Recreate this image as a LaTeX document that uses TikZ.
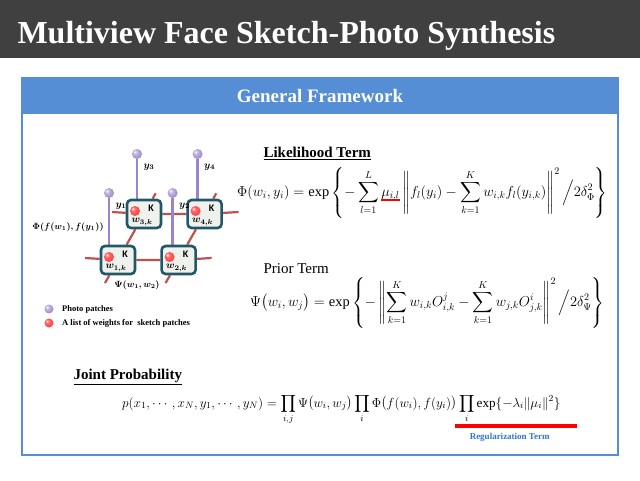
\RequirePackage{fix-cm}
\documentclass[tikz,border=0pt]{standalone}
\usepackage{amsmath}
\usepackage{bm}
\usepackage{fontspec}
\setmainfont{Liberation Serif}
\newfontfamily\carlito{Carlito}
\usetikzlibrary{positioning, calc, backgrounds}
\definecolor{titlegray}{HTML}{404040}
\definecolor{frameblue}{HTML}{558ED5}
\definecolor{boxteal}{HTML}{215868}
\definecolor{boxfill}{HTML}{EEF1EC}
\definecolor{polepurple}{HTML}{9B85C9}
\definecolor{linkred}{HTML}{C0504D}
\definecolor{regblue}{HTML}{2E75D6}
% shaded balls
\pgfdeclareradialshading{pshade}{\pgfpoint{-12bp}{12bp}}{color(0bp)=(white); color(10bp)=(white!40!polepurple); color(30bp)=(polepurple); color(50bp)=(polepurple!70!black)}
\pgfdeclareradialshading{rshade}{\pgfpoint{-12bp}{12bp}}{color(0bp)=(white); color(10bp)=(white!40!red); color(30bp)=(red!75); color(50bp)=(red!60!black)}
% red rule under a math term
\newcommand{\redul}[1]{\mathord{\setbox0=\hbox{$#1$}\rlap{\color{red}\rule[-4pt]{\wd0}{1.6pt}}\box0}}

\begin{document}
\begin{tikzpicture}[x=1pt, y=-1pt,
        wbox/.style={draw=boxteal, line width=2.6pt, fill=boxfill, rounded corners=4pt,
            minimum width=34pt, minimum height=28pt, inner sep=0pt},
        pball/.style={circle, inner sep=0pt, minimum size=10pt, shading=pshade},
        rball/.style={circle, inner sep=0pt, minimum size=10pt, shading=rshade},
        pole/.style={polepurple, line width=2.6pt},
        link/.style={linkred, line width=2.2pt},
        heading/.style={font=\fontsize{15}{17}\selectfont\bfseries, anchor=base west},
        eqn/.style={font=\fontsize{14.4}{16}\selectfont, inner sep=0pt},
        legend/.style={font=\fontsize{8.5}{10}\selectfont\bfseries, right=5pt of #1}
    ]
        \useasboundingbox (0,0) rectangle (640,480);
        % title bar and frame
        \fill[titlegray] (0,0) rectangle (640,58);
        \node[text=white, font=\fontsize{32}{36}\selectfont\bfseries, anchor=base west] (title) at (14,43) {Multiview Face Sketch-Photo Synthesis};
        \fill[frameblue] (22,78) rectangle (618,114);
        \draw[frameblue, line width=1.6pt] (22,78) rectangle (618,455);
        \node[text=white, font=\fontsize{19}{22}\selectfont\bfseries] (framehead) at (320,96) {General Framework};

        % weight boxes
        \node[wbox] (w1) at (118,260) {};
        \node[wbox, right=24pt of w1] (w2) {};
        \node[wbox] (w3) at ($(w1)+(26,-46)$) {};
        \node[wbox, right=24pt of w3] (w4) {};
        \foreach \i in {1,...,4} {
            \node[rball] at ($(w\i)+(-9,-3)$) {};
            \node[font=\carlito\bfseries\fontsize{10}{10}\selectfont] at ($(w\i)+(7,-6)$) {K};
            \node[font=\fontsize{10}{10}\selectfont] at ($(w\i)+(-2,8)$) {$\bm{w_{\i,k}}$};
        }

        % photo patches
        \node[pball] (y1) at ($(w1)+(-9,-67)$) {};
        \node[pball] (y2) at ($(w2)+(-6,-67)$) {};
        \node[pball] (y3) at ($(w3)+(-7,-60)$) {};
        \node[pball] (y4) at ($(w4)+(-7,-60)$) {};
        \foreach \i in {1,...,4}
            \node[font=\fontsize{10}{10}\selectfont, anchor=west] at ($(y\i)+(3,13)$) {$\bm{y_{\i}}$};

        % links behind the boxes
        \coordinate (t0) at ($(w3)+(-32,-2)$);
        \coordinate (t1) at ($(w4)+(34,-2)$);
        \coordinate (b0) at ($(w1)+(-33,-2)$);
        \coordinate (b1) at ($(w2)+(33,-2)$);
        \coordinate (d1) at ($(w3)!1.5!(w1)$);
        \coordinate (u3) at ($(w1)!1.45!(w3)$);
        \coordinate (d2) at ($(w4)!1.5!(w2)$);
        \coordinate (u4) at ($(w2)!1.45!(w4)$);
        \begin{scope}[on background layer]
            \draw[link] (t0) -- (w3) -- (w4) -- (t1);
            \draw[link] (b0) -- (w1) -- (w2) -- (b1);
            \draw[link] (d1) -- (w1) -- (w3) -- (u3);
            \draw[link] (d2) -- (w2) -- (w4) -- (u4);
            \draw[pole] (y1) -- (y1 |- w1.north);
            \draw[pole] (y2) -- (y2 |- w2.north);
            \draw[pole] (y3) -- (y3 |- w3.north);
            \draw[pole] (y4) -- (y4 |- w4.north);
        \end{scope}

        \node[font=\fontsize{9}{10}\selectfont] (philabel) at (68,227) {$\bm{\Phi(f(w_1),f(y_1))}$};
        \node[font=\fontsize{9}{10}\selectfont] (psilabel) at (137,285) {$\bm{\Psi(w_1,w_2)}$};

        % legend
        \node[pball, minimum size=9pt] (legp) at (49,309) {};
        \node[legend=legp] {Photo patches};
        \node[rball, minimum size=9pt] (legr) at (49,323) {};
        \node[legend=legr] {A list of weights for\ \ sketch patches};

        % likelihood term
        \node[heading] (likehead) at (260,157) {\underline{Likelihood Term}};
        \node[eqn, anchor=west] (phieq) at (237,193) {$\displaystyle \Phi(w_i,y_i)=\exp\left\{-\sum_{l=1}^{L}\redul{\mu_{i,l}}\left\|f_l(y_i)-\sum_{k=1}^{K}w_{i,k}f_l(y_{i,k})\right\|^2\Big/2\delta_{\Phi}^2\right\}$};

        % prior term
        \node[heading, font=\fontsize{15}{17}\selectfont] (priorhead) at (260,273) {Prior Term};
        \node[eqn, anchor=west] (psieq) at (250,303) {$\displaystyle \Psi\bigl(w_i,w_j\bigr)=\exp\left\{-\left\|\sum_{k=1}^{K}w_{i,k}O_{i,k}^{j}-\sum_{k=1}^{K}w_{j,k}O_{j,k}^{i}\right\|^2\Big/2\delta_{\Psi}^2\right\}$};

        % joint probability
        \node[heading] (jointhead) at (70,379) {\underline{Joint Probability}};
        \node[eqn, font=\fontsize{13.2}{15}\selectfont, anchor=base west] (jointeq) at (122,407) {$\displaystyle p(x_1,\cdots,x_N,y_1,\cdots,y_N)=\prod_{i,j}\Psi\bigl(w_i,w_j\bigr)\prod_i\Phi\bigl(f(w_i),f(y_i)\bigr)$};
        \node[eqn, font=\fontsize{13.2}{15}\selectfont, anchor=base west] (regeq) at ($(jointeq.base east)+(2,0)$) {$\displaystyle\prod_i\exp\{-\lambda_i\|\mu_i\|^2\}$};
        \coordinate (rega) at ($(regeq.south west)+(-4,3)$);
        \coordinate (regb) at ($(regeq.south east)+(16,3)$);
        \draw[red, line width=3.5pt] (rega) -- (regb);
        \node[font=\fontsize{9}{10}\selectfont\bfseries, text=regblue, below=4pt of $(rega)!0.45!(regb)$] (reglabel) {Regularization Term};
    \end{tikzpicture}
\end{document}
